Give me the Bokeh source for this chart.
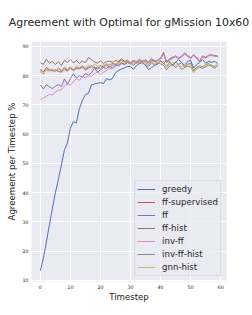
from bokeh.plotting import figure
from bokeh.models import Range1d, Legend, LegendItem, FixedTicker
from bokeh.embed import file_html
from bokeh.resources import INLINE

timesteps = list(range(60))

greedy = [13.3, 17.5, 23.0, 29.0, 34.5, 40.0, 44.5, 49.5, 54.5, 57.0,
          62.0, 64.3, 63.8, 68.8, 71.5, 73.6, 74.0, 76.8, 77.2, 77.4,
          77.6, 77.3, 79.0, 78.6, 79.0, 81.0, 81.8, 82.3, 82.6, 83.2,
          83.1, 82.2, 83.5, 84.2, 84.5, 83.5, 82.1, 82.8, 83.5, 84.0,
          85.0, 84.2, 85.3, 84.8, 83.5, 84.6, 85.5, 84.5, 83.5, 84.9,
          85.3, 82.6, 83.8, 84.5, 85.5, 84.3, 84.9, 84.6, 84.9, 84.2]

ff_supervised = [82.2, 81.3, 82.8, 82.1, 81.6, 82.0, 81.5, 81.2, 82.3, 81.6,
                 82.6, 81.9, 82.8, 82.3, 83.0, 82.0, 82.6, 83.2, 82.8, 82.2,
                 83.5, 83.0, 84.0, 83.6, 84.2, 83.8, 84.6, 85.3, 84.6, 85.0,
                 84.5, 85.2, 84.8, 85.6, 84.9, 85.4, 84.7, 85.8, 85.0, 85.3,
                 86.0, 88.0, 84.5, 85.8, 86.2, 86.8, 86.0, 86.6, 87.8, 86.9,
                 86.2, 87.0, 86.4, 85.0, 86.8, 86.3, 87.0, 87.1, 86.9, 86.5]

ff = [76.8, 75.5, 76.9, 76.2, 75.6, 76.4, 77.0, 76.3, 78.9, 77.0,
      79.0, 80.7, 79.2, 80.0, 79.5, 80.8, 80.2, 81.0, 82.6, 81.2,
      82.0, 82.8, 82.5, 83.2, 82.7, 83.6, 83.4, 84.2, 83.8, 84.5,
      84.0, 84.8, 84.3, 85.2, 84.6, 85.0, 84.4, 85.3, 84.8, 85.2,
      85.7, 87.4, 84.6, 85.4, 86.0, 86.5, 85.8, 86.5, 87.4, 86.7,
      85.8, 87.0, 86.0, 84.7, 86.5, 86.0, 86.8, 86.9, 86.7, 86.8]

ff_hist = [84.4, 83.9, 85.6, 84.3, 84.9, 83.8, 84.8, 83.5, 85.2, 84.6,
           85.5, 84.4, 85.2, 84.2, 85.0, 84.5, 86.2, 85.5, 84.7, 84.3,
           85.0, 84.2, 84.8, 85.0, 84.6, 85.2, 84.9, 85.8, 84.9, 85.3,
           84.5, 85.0, 84.8, 84.2, 85.1, 84.5, 83.8, 84.9, 85.4, 84.2,
           85.0, 84.3, 83.2, 84.5, 83.9, 84.6, 83.8, 84.5, 83.1, 83.8,
           84.3, 81.8, 82.8, 83.4, 83.0, 83.8, 84.2, 83.5, 83.1, 83.8]

inv_ff = [71.8, 72.3, 73.0, 73.6, 73.4, 74.5, 75.0, 75.2, 76.5, 77.3,
          76.8, 78.0, 79.0, 78.4, 79.8, 79.2, 80.0, 79.8, 80.6, 81.3,
          80.4, 81.2, 81.8, 82.5, 82.4, 83.1, 83.8, 84.3, 84.0, 84.6,
          84.2, 85.0, 84.6, 85.4, 84.8, 85.2, 84.6, 85.6, 85.1, 85.2,
          86.1, 87.6, 84.8, 85.6, 86.4, 86.6, 86.1, 86.8, 87.6, 86.6,
          86.0, 87.2, 86.2, 84.9, 86.6, 86.2, 86.9, 87.0, 86.8, 86.4]

inv_ff_hist = [81.3, 80.6, 82.1, 81.6, 82.0, 81.3, 82.4, 81.5, 82.8, 81.9,
               82.6, 81.8, 82.4, 82.7, 83.1, 82.3, 82.9, 83.4, 82.6, 83.0,
               82.4, 83.2, 83.5, 82.9, 83.6, 84.0, 83.4, 84.5, 84.0, 84.8,
               84.2, 83.6, 84.5, 84.9, 84.2, 83.8, 83.1, 84.3, 83.7, 84.6,
               84.0, 83.6, 82.0, 83.3, 83.8, 82.8, 83.5, 82.2, 82.7, 83.3,
               83.0, 81.2, 82.2, 82.9, 82.5, 83.0, 83.6, 83.2, 82.6, 83.4]

gnn_hist = [81.9, 80.4, 82.3, 81.8, 82.3, 81.6, 82.7, 81.8, 83.0, 82.2,
            83.1, 82.3, 83.3, 82.7, 83.4, 82.8, 83.6, 83.1, 83.9, 83.3,
            83.2, 83.8, 83.4, 84.0, 83.6, 84.3, 84.0, 85.2, 84.5, 85.1,
            84.6, 84.0, 84.9, 85.3, 84.4, 84.8, 83.7, 84.6, 84.1, 84.8,
            84.2, 85.0, 82.8, 83.9, 84.4, 83.4, 84.2, 83.0, 83.4, 84.0,
            83.6, 81.0, 82.4, 83.3, 82.8, 83.5, 84.0, 83.6, 82.9, 83.8]

series_names = ["greedy", "ff-supervised", "ff", "ff-hist", "inv-ff", "inv-ff-hist", "gnn-hist"]
series_values = [greedy, ff_supervised, ff, ff_hist, inv_ff, inv_ff_hist, gnn_hist]
series_colors = ["#4C72B0", "#C44E52", "#8172B2", "#937860", "#DA8BC3", "#8C8C8C", "#CCB974"]

x_ticks = [0, 10, 20, 30, 40, 50, 60]
y_ticks = [10, 20, 30, 40, 50, 60, 70, 80, 90]

FONT = "DejaVu Sans"

p = figure(width=252, height=315, output_backend="svg", toolbar_location=None,
           x_range=Range1d(-2.95, 61.95), y_range=Range1d(9.6, 91.7))
p.min_border_left = 31
p.min_border_right = 26
p.min_border_top = 38
p.min_border_bottom = 34
p.outline_line_color = None
p.background_fill_color = "#EAEAF2"
p.border_fill_color = "white"

p.title.text = "Agreement with Optimal for gMission 10x60"
p.title.text_font = FONT
p.title.text_font_size = "10.9px"
p.title.text_font_style = "normal"
p.title.text_color = "#262626"
p.title.align = "center"
p.title.offset = -3
p.title.standoff = 26

for ax in (p.xaxis[0], p.yaxis[0]):
    ax.axis_line_color = None
    ax.major_tick_line_color = None
    ax.minor_tick_line_color = None
    ax.major_tick_out = 0
    ax.major_tick_in = 0
    ax.minor_tick_out = 0
    ax.minor_tick_in = 0
    ax.major_label_text_font = FONT
    ax.major_label_text_font_size = "4.8px"
    ax.major_label_text_color = "#262626"
    ax.axis_label_text_font = FONT
    ax.axis_label_text_font_size = "8.6px"
    ax.axis_label_text_font_style = "normal"
    ax.axis_label_text_color = "#262626"
    ax.major_label_standoff = 3
    ax.axis_label_standoff = 0

p.yaxis[0].axis_label_standoff = 2
p.xaxis.ticker = FixedTicker(ticks=x_ticks)
p.yaxis.ticker = FixedTicker(ticks=y_ticks)
p.xaxis.axis_label = "Timestep"
p.yaxis.axis_label = "Agreement per Timestep %"

p.grid.grid_line_color = "white"
p.grid.grid_line_width = 1

items = []
for name, vals, col in zip(series_names, series_values, series_colors):
    r = p.line(timesteps, vals, line_color=col, line_width=1)
    items.append(LegendItem(label=name, renderers=[r]))

legend = Legend(items=items, location="bottom_right")
legend.label_text_font = FONT
legend.label_text_font_size = "8.6px"
legend.label_text_color = "#262626"
legend.background_fill_color = "#EAEAF2"
legend.background_fill_alpha = 0.8
legend.border_line_color = "#CCCCCC"
legend.border_line_width = 1
legend.glyph_width = 18
legend.glyph_height = 12
legend.label_height = 12
legend.label_standoff = 7
legend.spacing = 1
legend.padding = 2
legend.margin = 5
p.add_layout(legend)

open("out.html", "w").write(file_html(p, INLINE))
